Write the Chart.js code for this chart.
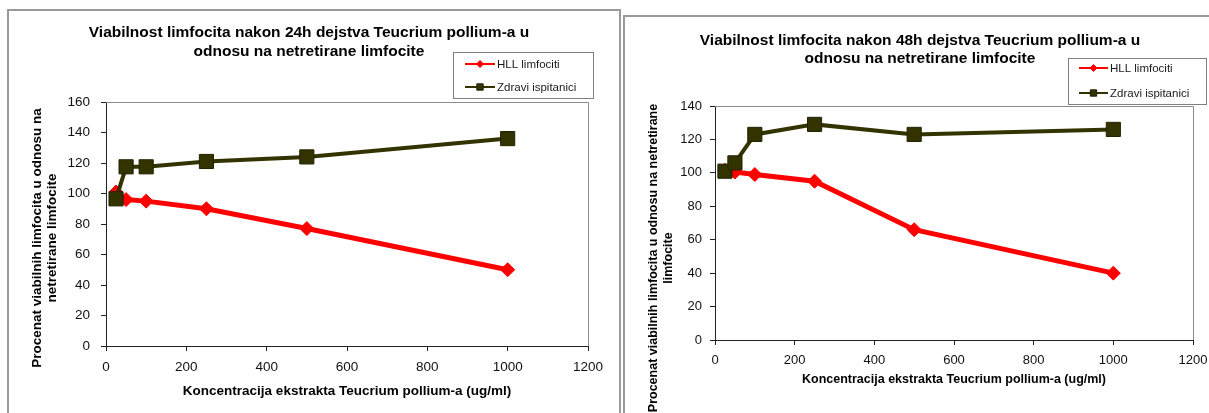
<!DOCTYPE html>
<html>
<head>
<meta charset="utf-8">
<script src="https://cdn.jsdelivr.net/npm/chart.js@4.4.1/dist/chart.umd.min.js"></script>
<style>
  body { margin: 0; background: #fff; width: 1209px; height: 413px; overflow: hidden; position: relative; }
  canvas { position: absolute; top: 0; }
  #chart24 { left: 0; }
  #chart48 { left: 620px; }
  .frame { position: absolute; border: 2px solid #9a9a9a; box-sizing: border-box; }
</style>
</head>
<body>
<div class="frame" style="left:7px; top:9px; width:614px; height:430px;"></div>
<div class="frame" style="left:623px; top:15px; width:620px; height:430px;"></div>
<canvas id="chart24" width="620" height="413"></canvas>
<canvas id="chart48" width="600" height="413"></canvas>

<script>
// =======================================
// DATA
// =======================================
const concentrations = [25, 50, 100, 250, 500, 1000];
const hll24 = [101, 96, 95, 90, 77, 50];
const healthy24 = [96.5, 117.5, 117.5, 121, 124, 136];
const hll48 = [101.5, 100.5, 99, 95, 66, 40];
const healthy48 = [101, 106, 123, 129, 123, 126];

const seriesNames = ["HLL limfociti", "Zdravi ispitanici"];
const xTickValues = [0, 200, 400, 600, 800, 1000, 1200];
const yTickValues24 = [0, 20, 40, 60, 80, 100, 120, 140, 160];
const yTickValues48 = [0, 20, 40, 60, 80, 100, 120, 140];

const title24 = ["Viabilnost limfocita nakon 24h dejstva Teucrium pollium-a u", "odnosu na netretirane limfocite"];
const title48 = ["Viabilnost limfocita nakon 48h dejstva Teucrium pollium-a u", "odnosu na netretirane limfocite"];
const xTitle = "Koncentracija ekstrakta Teucrium pollium-a (ug/ml)";
const yTitle24 = ["Procenat viabilnih limfocita u odnosu na", "netretirane limfocite"];
const yTitle48 = ["Procenat viabilnih limfocita u odnosu na netretirane", "limfocite"];

const FONT = "'Liberation Sans', Arial, sans-serif";
Chart.defaults.font.family = FONT;

// =======================================
// PLUGIN: titles, plot frame, legend box
// =======================================
const decorPlugin = {
  id: "decor",
  beforeDatasetsDraw(chart) {
    const { ctx, chartArea: a } = chart;
    ctx.save();
    ctx.strokeStyle = "#8c8c8c";
    ctx.lineWidth = 1;
    ctx.beginPath();
    ctx.moveTo(a.left, a.top + 0.5);
    ctx.lineTo(a.right + 0.5, a.top + 0.5);
    ctx.lineTo(a.right + 0.5, a.bottom);
    ctx.stroke();
    ctx.restore();
  },
  afterDraw(chart, args, opts) {
    const ctx = chart.ctx;
    ctx.save();
    ctx.fillStyle = "#000";
    ctx.textAlign = "center";
    ctx.textBaseline = "middle";

    // chart title
    ctx.font = `bold ${opts.titleSize}px ${FONT}`;
    opts.title.forEach((line, i) => ctx.fillText(line, opts.titleX, opts.titleY + i * opts.titleGap));

    // y axis title (rotated)
    ctx.save();
    ctx.translate(opts.yTitleX, opts.yTitleY);
    ctx.rotate(-Math.PI / 2);
    ctx.font = `bold ${opts.yTitleSize}px ${FONT}`;
    opts.yTitle.forEach((line, i) => ctx.fillText(line, 0, i * opts.yTitleGap));
    ctx.restore();

    // legend
    const b = opts.legendBox;
    ctx.fillStyle = "#fff";
    ctx.fillRect(b.x, b.y, b.w, b.h);
    ctx.strokeStyle = "#7f7f7f";
    ctx.lineWidth = 1;
    ctx.strokeRect(b.x + 0.5, b.y + 0.5, b.w, b.h);
    ctx.font = `11.5px ${FONT}`;
    ctx.textAlign = "left";
    const mid = (opts.legendLineX[0] + opts.legendLineX[1]) / 2;
    chart.data.datasets.forEach((ds, i) => {
      const y = opts.legendRows[i];
      ctx.strokeStyle = ds.borderColor;
      ctx.lineWidth = 2;
      ctx.beginPath();
      ctx.moveTo(opts.legendLineX[0], y);
      ctx.lineTo(opts.legendLineX[1], y);
      ctx.stroke();
      ctx.fillStyle = ds.pointBackgroundColor;
      ctx.strokeStyle = ds.pointBorderColor;
      ctx.lineWidth = 1;
      Chart.helpers.drawPoint(ctx, { pointStyle: ds.pointStyle, radius: opts.legendRadius[i], borderWidth: 1, rotation: 0 }, mid, y);
      ctx.fillStyle = "#1a1a1a";
      ctx.fillText(ds.label, opts.legendTextX, y + 0.5);
    });
    ctx.restore();
  },
};

// =======================================
// CHART BUILDER
// =======================================
function buildChart(id, hll, healthy, yTicks, layout) {
  const points = (vals) => concentrations.map((x, i) => ({ x: x, y: vals[i] }));
  return new Chart(document.getElementById(id), {
    type: "line",
    data: {
      datasets: [
        {
          label: seriesNames[0],
          data: points(hll),
          borderColor: "#ff0000",
          borderWidth: 5,
          pointStyle: "rectRot",
          pointRadius: 7,
          pointBackgroundColor: "#ff0000",
          pointBorderColor: "#ff0000",
          pointBorderWidth: 1,
          tension: 0,
          order: 1,
        },
        {
          label: seriesNames[1],
          data: points(healthy),
          borderColor: "#333300",
          borderWidth: 4,
          pointStyle: "rect",
          pointRadius: 10,
          pointBackgroundColor: "#333300",
          pointBorderColor: "#222200",
          pointBorderWidth: 1,
          tension: 0,
          order: 0,
        },
      ],
    },
    plugins: [decorPlugin],
    options: {
      responsive: false,
      animation: false,
      events: [],
      layout: { padding: { left: 0, right: layout.padRight, top: layout.padTop, bottom: 0 } },
      plugins: {
        legend: { display: false },
        tooltip: { enabled: false },
        decor: layout.decor,
      },
      scales: {
        x: {
          type: "linear",
          min: xTickValues[0],
          max: xTickValues[xTickValues.length - 1],
          afterBuildTicks: (s) => { s.ticks = xTickValues.map((v) => ({ value: v })); },
          afterFit: (s) => { s.height = layout.xHeight; },
          border: { display: true, color: "#222", width: 1 },
          grid: { display: true, drawOnChartArea: false, drawTicks: true, tickLength: 5, color: "#222" },
          ticks: {
            padding: layout.xTickPad, color: "#111", font: { size: layout.tickSize }, maxRotation: 0,
            callback: (v) => String(v),
          },
          title: {
            display: true,
            text: xTitle,
            color: "#000",
            font: { size: layout.xTitleSize, weight: "bold" },
            padding: { top: 0, bottom: layout.xTitlePad },
          },
        },
        y: {
          min: yTicks[0],
          max: yTicks[yTicks.length - 1],
          afterBuildTicks: (s) => { s.ticks = yTicks.map((v) => ({ value: v })); },
          afterFit: (s) => { s.width = layout.yWidth; },
          border: { display: true, color: "#222", width: 1 },
          grid: { display: true, drawOnChartArea: false, drawTicks: true, tickLength: 5, color: "#222" },
          ticks: { padding: layout.yTickPad, color: "#111", font: { size: layout.tickSize }, callback: (v) => String(v) },
        },
      },
    },
  });
}

// =======================================
// INIT
// =======================================
buildChart("chart24", hll24, healthy24, yTickValues24, {
  padRight: 32, padTop: 102, xHeight: 67, yWidth: 106,
  xTickPad: 8, yTickPad: 11, tickSize: 13.5, xTitleSize: 13.5, xTitlePad: 14,
  decor: {
    title: title24, titleSize: 15.5, titleX: 309, titleY: 33, titleGap: 19,
    yTitle: yTitle24, yTitleSize: 13.5, yTitleX: 37.5, yTitleY: 238, yTitleGap: 15,
    legendBox: { x: 453, y: 52, w: 140, h: 46 },
    legendRows: [64, 87], legendLineX: [465, 495], legendTextX: 497, legendRadius: [3.5, 4.5],
  },
});

// canvas is 600 wide (clipped at the window edge) so the plot can reach x = 1193
buildChart("chart48", hll48, healthy48, yTickValues48, {
  padRight: 27, padTop: 106, xHeight: 73, yWidth: 95,
  xTickPad: 8, yTickPad: 8, tickSize: 13, xTitleSize: 12.5, xTitlePad: 25.5,
  decor: {
    title: title48, titleSize: 15.5, titleX: 300, titleY: 41, titleGap: 18,
    yTitle: yTitle48, yTitleSize: 12.5, yTitleX: 34, yTitleY: 258, yTitleGap: 15,
    legendBox: { x: 448, y: 58, w: 138, h: 46 },
    legendRows: [68, 93], legendLineX: [459, 488], legendTextX: 490, legendRadius: [3.5, 4.5],
  },
});
</script>
</body>
</html>
